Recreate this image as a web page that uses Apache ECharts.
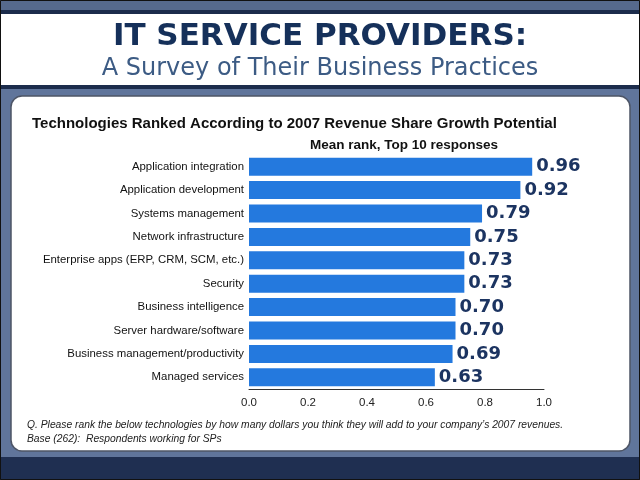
<!DOCTYPE html>
<html lang="en">
<head>
    <meta charset="UTF-8">
    <title>IT Service Providers</title>
    <script src="https://cdn.jsdelivr.net/npm/echarts@6/dist/echarts.min.js"></script>
    <style>
        body { margin: 0; }
        #main { width: 640px; height: 480px; }
    </style>
</head>
<body>
    <div id="main"></div>
    <script>
        // data
        var technologies = [
            'Application integration',
            'Application development',
            'Systems management',
            'Network infrastructure',
            'Enterprise apps (ERP, CRM, SCM, etc.)',
            'Security',
            'Business intelligence',
            'Server hardware/software',
            'Business management/productivity',
            'Managed services'
        ];
        var meanRank = [0.96, 0.92, 0.79, 0.75, 0.73, 0.73, 0.70, 0.70, 0.69, 0.63];
        var xTicks = [0, 0.2, 0.4, 0.6, 0.8, 1.0];

        var myChart = echarts.init(document.getElementById('main'));

        var option = {
            animation: false,
            backgroundColor: '#ffffff',
            graphic: [
                // top band
                { type: 'rect', z: -10, shape: { x: 0, y: 0, width: 640, height: 11 }, style: { fill: '#566a8d' } },
                { type: 'rect', z: -10, shape: { x: 0, y: 10, width: 640, height: 4 }, style: { fill: '#1c2c4c' } },
                // middle slate area
                { type: 'rect', z: -10, shape: { x: 0, y: 85, width: 640, height: 373 }, style: { fill: '#60759b' } },
                { type: 'rect', z: -10, shape: { x: 0, y: 85, width: 640, height: 4 }, style: { fill: '#1c2c4c' } },
                // white panel
                { type: 'rect', z: -9, shape: { x: 11, y: 96, width: 619, height: 355, r: 11 },
                  style: { fill: '#ffffff', stroke: '#4d5566', lineWidth: 1.5 } },
                // bottom band
                { type: 'rect', z: -10, shape: { x: 0, y: 457, width: 640, height: 23 }, style: { fill: '#1f2f51' } },
                // outer frame
                { type: 'rect', z: 100, shape: { x: 0.5, y: 0.5, width: 639, height: 479 },
                  style: { fill: 'none', stroke: '#111', lineWidth: 1 } }
            ],
            title: [
                {
                    text: 'IT SERVICE PROVIDERS:',
                    left: 'center', top: 21, padding: 0,
                    textStyle: { fontFamily: 'DejaVu Sans', fontSize: 31, fontWeight: 'bold', color: '#15305a' }
                },
                {
                    text: 'A Survey of Their Business Practices',
                    left: 'center', top: 57, padding: 0,
                    textStyle: { fontFamily: 'DejaVu Sans', fontSize: 24, fontWeight: 'normal', color: '#3c5b84' }
                },
                {
                    text: 'Technologies Ranked According to 2007 Revenue Share Growth Potential',
                    left: 32, top: 116, padding: 0,
                    textStyle: { fontFamily: 'Liberation Sans', fontSize: 15, fontWeight: 'bold', color: '#111' }
                },
                {
                    text: 'Mean rank, Top 10 responses',
                    left: 310, top: 138, padding: 0,
                    textStyle: { fontFamily: 'Liberation Sans', fontSize: 13.5, fontWeight: 'bold', color: '#111' }
                },
                {
                    text: 'Q. Please rank the below technologies by how many dollars you think they will add to your company\u2019s 2007 revenues.\nBase (262):  Respondents working for SPs',
                    left: 27, top: 418, padding: 0,
                    textStyle: { fontFamily: 'Liberation Sans', fontSize: 10.3, fontStyle: 'italic', fontWeight: 'normal',
                                 color: '#222', lineHeight: 14 }
                }
            ],
            grid: { left: 249, right: 96, top: 155, height: 234, containLabel: false },
            xAxis: {
                type: 'value',
                min: 0, max: 1, interval: 0.2,
                axisLine: { show: true, lineStyle: { color: '#333', width: 1 } },
                axisTick: { show: false },
                splitLine: { show: false },
                axisLabel: {
                    margin: 8,
                    fontFamily: 'Liberation Sans', fontSize: 11.5, color: '#222',
                    formatter: function (v) {
                        for (var i = 0; i < xTicks.length; i++) {
                            if (Math.abs(xTicks[i] - v) < 1e-6) return xTicks[i].toFixed(1);
                        }
                        return '';
                    }
                }
            },
            yAxis: {
                type: 'category',
                inverse: true,
                data: technologies,
                axisLine: { show: false },
                axisTick: { show: false },
                axisLabel: { margin: 5, fontFamily: 'Liberation Sans', fontSize: 11.4, color: '#111' }
            },
            series: [
                {
                    type: 'bar',
                    data: meanRank,
                    barWidth: 18,
                    itemStyle: { color: '#2479de' },
                    label: {
                        show: true,
                        position: 'right',
                        distance: 4,
                        fontFamily: 'DejaVu Sans', fontSize: 18, fontWeight: 'bold', color: '#1c3461',
                        formatter: function (p) { return p.value.toFixed(2); }
                    }
                }
            ]
        };
        myChart.setOption(option);
    </script>
</body>
</html>
